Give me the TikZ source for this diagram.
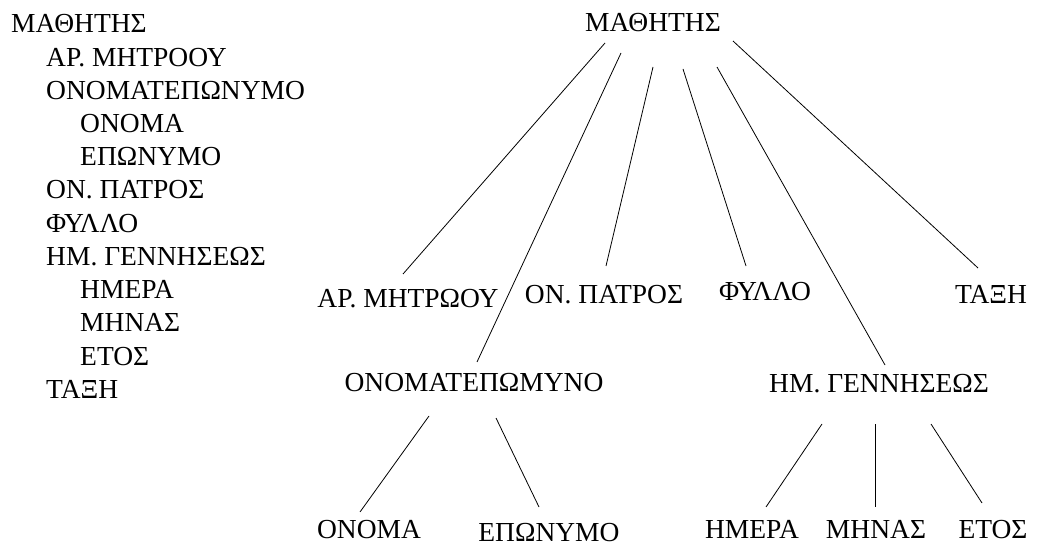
\documentclass[tikz,border=0pt]{standalone}
\usepackage{fontspec}
\setmainfont{Liberation Serif}
\usetikzlibrary{calc}

\tikzset{
  lbl/.style = {inner sep=0pt, anchor=base, font=\fontsize{27.5}{33}\selectfont},
  row/.style = {lbl, anchor=base west},
  edge/.style = {line width=0.8pt}
}

\begin{document}
\begin{tikzpicture}[x=1pt, y=-1pt]
\useasboundingbox (0,0) rectangle (1041,545);
% list on the left
\node[row] (r0)  at (11,33.0)  {ΜΑΘΗΤΗΣ};
\node[row] (r1)  at (46,66.2)  {ΑΡ. ΜΗΤΡΟΟΥ};
\node[row] (r2)  at (46,99.4)  {ΟΝΟΜΑΤΕΠΩΝΥΜΟ};
\node[row] (r3)  at (80,132.6) {ΟΝΟΜΑ};
\node[row] (r4)  at (80,165.8) {ΕΠΩΝΥΜΟ};
\node[row] (r5)  at (46,199.0) {ΟΝ. ΠΑΤΡΟΣ};
\node[row] (r6)  at (46,232.2) {ΦΥΛΛΟ};
\node[row] (r7)  at (46,265.4) {ΗΜ. ΓΕΝΝΗΣΕΩΣ};
\node[row] (r8)  at (80,298.6) {ΗΜΕΡΑ};
\node[row] (r9)  at (80,331.8) {ΜΗΝΑΣ};
\node[row] (r10) at (80,365.0) {ΕΤΟΣ};
\node[row] (r11) at (46,398.2) {ΤΑΞΗ};
% tree
\node[lbl] (root)  at (653,32)  {ΜΑΘΗΤΗΣ};
\node[lbl] (ar)    at (408,307) {ΑΡ. ΜΗΤΡΩΟΥ};
\node[lbl] (pat)   at (604,304) {ΟΝ. ΠΑΤΡΟΣ};
\node[lbl] (fyl)   at (765,301) {ΦΥΛΛΟ};
\node[lbl] (tax)   at (991,303) {ΤΑΞΗ};
\node[lbl] (onm)   at (474,391) {ΟΝΟΜΑΤΕΠΩΜΥΝΟ};
\node[lbl] (gen)   at (879,392) {ΗΜ. ΓΕΝΝΗΣΕΩΣ};
\node[lbl] (onoma) at (369,538) {ΟΝΟΜΑ};
\node[lbl] (epon)  at (549,541) {ΕΠΩΝΥΜΟ};
\node[lbl] (hmera) at (752,538) {ΗΜΕΡΑ};
\node[lbl] (minas) at (876,538) {ΜΗΝΑΣ};
\node[lbl] (etos)  at (993,538) {ΕΤΟΣ};
% connectors
\draw[edge] ($(root.base)+(-48,11)$) -- ($(ar.base)+(-5,-33)$);
\draw[edge] ($(root.base)+(-32,21)$) -- ($(onm.base)+(3,-29)$);
\draw[edge] ($(root.base)+(0,35)$)   -- ($(pat.base)+(2,-38)$);
\draw[edge] ($(root.base)+(30,37)$)  -- ($(fyl.base)+(-19,-35)$);
\draw[edge] ($(root.base)+(64,35)$)  -- ($(gen.base)+(6,-27)$);
\draw[edge] ($(root.base)+(80,9)$)   -- ($(tax.base)+(-13,-35)$);
\draw[edge] ($(onm.base)+(-45,25)$)  -- ($(onoma.base)+(-9,-26)$);
\draw[edge] ($(onm.base)+(22,27)$)   -- ($(epon.base)+(-10,-34)$);
\draw[edge] ($(gen.base)+(-57,32)$)  -- ($(hmera.base)+(14,-31)$);
\draw[edge] ($(gen.base)+(-4,32)$)   -- ($(minas.base)+(-1,-31)$);
\draw[edge] ($(gen.base)+(52,32)$)   -- ($(etos.base)+(-11,-35)$);
\end{tikzpicture}
\end{document}
